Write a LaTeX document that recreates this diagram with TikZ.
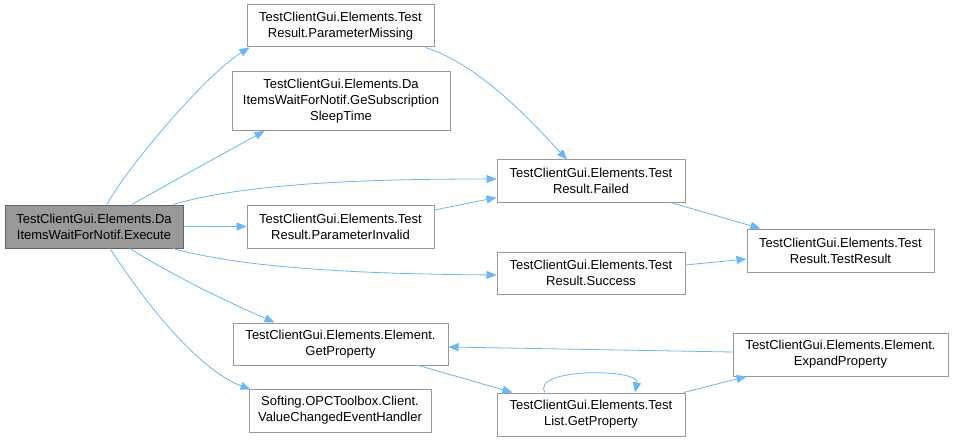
\documentclass[tikz,border=0pt]{standalone}
\usepackage{fontspec}
\setmainfont{Liberation Sans}
\usetikzlibrary{arrows.meta,calc}
\definecolor{edgec}{HTML}{63B8FF}
\definecolor{boxc}{HTML}{999999}
\definecolor{rootc}{HTML}{999999}
\definecolor{rootb}{HTML}{666666}
\begin{document}
\begin{tikzpicture}[x=1pt,y=-1pt,
  box/.style={draw=boxc, fill=white, line width=1pt, align=center, inner sep=0pt,
    font=\fontsize{13}{16}\selectfont},
  root/.style={box, fill=rootc, draw=rootb},
  edge/.style={draw=edgec, line width=0.8pt, -{Triangle[length=10pt,width=8pt]}}]
\useasboundingbox (0,0) rectangle (953,441);
\node[root, minimum width=178pt, minimum height=43pt] (exec) at (94,226.5) {TestClientGui.Elements.Da\\ItemsWaitForNotif.Execute};
\node[box, minimum width=187pt, minimum height=42pt] (pmiss) at (340.5,26) {TestClientGui.Elements.Test\\Result.ParameterMissing};
\node[box, minimum width=218pt, minimum height=59pt] (gesub) at (341,101) {TestClientGui.Elements.Da\\ItemsWaitForNotif.GeSubscription\\SleepTime};
\node[box, minimum width=187pt, minimum height=43pt] (pinv) at (340.5,226.5) {TestClientGui.Elements.Test\\Result.ParameterInvalid};
\node[box, minimum width=215pt, minimum height=42pt] (egp) at (340.5,344) {TestClientGui.Elements.Element.\\GetProperty};
\node[box, minimum width=182pt, minimum height=43pt] (soft) at (340,410.5) {Softing.OPCToolbox.Client.\\ValueChangedEventHandler};
\node[box, minimum width=188pt, minimum height=42pt] (failed) at (591,181) {TestClientGui.Elements.Test\\Result.Failed};
\node[box, minimum width=188pt, minimum height=42pt] (success) at (591,273) {TestClientGui.Elements.Test\\Result.Success};
\node[box, minimum width=187pt, minimum height=43pt] (tr) at (840.5,250.5) {TestClientGui.Elements.Test\\Result.TestResult};
\node[box, minimum width=215pt, minimum height=43pt] (expand) at (840.5,354.5) {TestClientGui.Elements.Element.\\ExpandProperty};
\node[box, minimum width=188pt, minimum height=43pt] (tlgp) at (591,414.5) {TestClientGui.Elements.Test\\List.GetProperty};

\draw[edge] ([xshift=13pt]exec.north) .. controls (125,170) and (205,75) .. ([xshift=3pt]pmiss.south west);
\draw[edge] ([xshift=38pt]exec.north) .. controls (175,180) and (230,150) .. ([xshift=33pt]gesub.south west);
\draw[edge] ([xshift=79pt]exec.north) .. controls (250,182) and (380,179) .. ([yshift=2pt]failed.west);
\draw[edge] (exec.east) -- (pinv.west);
\draw[edge] ([xshift=79pt]exec.south) .. controls (250,270) and (380,274) .. ([yshift=-2pt]success.west);
\draw[edge] ([xshift=36pt]exec.south) .. controls (180,280) and (235,305) .. ([xshift=42pt]egp.north west);
\draw[edge] ([xshift=16pt]exec.south) .. controls (150,310) and (200,370) .. ([xshift=2pt,yshift=-1pt]soft.north west);
\draw[edge] ([xshift=-9pt]pmiss.south east) .. controls (480,65) and (530,120) .. ([xshift=-24pt]failed.north);
\draw[edge] ([yshift=16.5pt]pinv.east) -- ([yshift=5pt]failed.south west);
\draw[edge] ([xshift=-15pt]failed.south east) -- ([xshift=14pt]tr.north west);
\draw[edge] ([yshift=8pt]success.east) -- ([yshift=-8.5pt]tr.west);
\draw[edge] ([xshift=-30pt]egp.south east) -- ([xshift=16pt]tlgp.north west);
\draw[edge] ([xshift=-2pt]tlgp.north east) -- ([xshift=14pt]expand.south west);
\draw[edge] ([yshift=2.5pt]expand.west) -- ([yshift=-3pt]egp.east);
\draw[edge] ([xshift=-46pt]tlgp.north) .. controls (530,368) and (640,368) .. ([xshift=44pt]tlgp.north);
\end{tikzpicture}
\end{document}
